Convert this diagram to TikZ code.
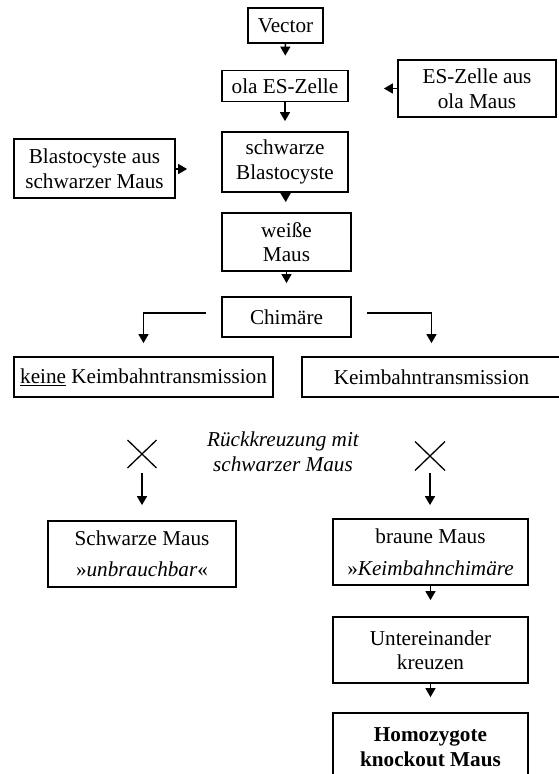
\documentclass[tikz,border=0pt]{standalone}
\usepackage{fontspec}
\setmainfont{Liberation Serif}
\usetikzlibrary{arrows.meta}
\begin{document}
\begin{tikzpicture}[x=1pt,y=-1pt,
  box/.style={draw,line width=1.8pt,inner sep=0pt,align=center,font=\fontsize{21.2}{24.5}\selectfont},
  arr/.style={line width=1.6pt,-{Triangle[width=10pt,length=9pt]}},
  cross/.style={line width=1.3pt},
  lbl/.style={align=center,inner sep=0pt,font=\fontsize{21.2}{25}\selectfont\itshape}
]
\clip (0,0) rectangle (559,774);
\node[box,minimum width=75pt,minimum height=35pt] (vector) at (285.5,25.5) {Vector};
\node[box,minimum width=126pt,minimum height=31pt] (ola) at (285,86) {ola ES-Zelle};
\node[box,minimum width=158pt,minimum height=57pt] (esz) at (477,88.5) {ES-Zelle aus\\ola Maus};
\node[box,minimum width=161pt,minimum height=59pt] (blaus) at (94.5,168.5) {Blastocyste aus\\schwarzer Maus};
\node[box,minimum width=126pt,minimum height=60pt] (sblast) at (285,162) {schwarze\\Blastocyste};
\node[box,minimum width=129pt,minimum height=58pt] (weiss) at (286.5,242) {weiße\\Maus};
\node[box,minimum width=129pt,minimum height=40pt] (chim) at (286.5,317) {Chimäre};
\node[box,minimum width=259pt,minimum height=40pt] (keine) at (143.5,377) {\underline{keine} Keimbahntransmission};
\node[box,minimum width=259pt,minimum height=40pt] (keim) at (431.5,377) {Keimbahntransmission};
\node[lbl] (rueck) at (283,452) {Rückkreuzung mit\\schwarzer Maus};
\node[box,minimum width=188pt,minimum height=66pt] (smaus) at (142,554) {Schwarze Maus\\[7pt]»\textit{unbrauchbar}«};
\node[box,minimum width=195pt,minimum height=66pt] (bmaus) at (430.5,552) {braune Maus\\[7pt]»\textit{Keimbahnchimäre}};
\node[box,minimum width=195pt,minimum height=66pt] (unter) at (430.5,650) {Untereinander\\kreuzen};
\node[box,minimum width=195pt,minimum height=68pt,font=\fontsize{21.2}{24.5}\selectfont\bfseries] (homo) at (430.5,747) {Homozygote\\knockout Maus};

\draw[arr,shorten >=14pt] (vector) -- (ola);
\draw[arr,shorten >=10pt] (ola) -- (sblast);
\draw[arr,shorten >=10pt] (sblast) -- (weiss);
\draw[arr,shorten >=13pt] (weiss) -- (chim);
\draw[arr,shorten >=35pt] (esz.west) -- (esz.west -| ola.east);
\draw[arr,shorten >=34pt] ([yshift=-0.5pt]blaus.east) -- ([yshift=-0.5pt]blaus.east -| sblast.west);
\draw[arr,shorten <=15pt,shorten >=13pt] ([yshift=4pt]chim.west) -| (keine.north);
\draw[arr,shorten <=15pt,shorten >=13pt] ([yshift=4pt]chim.east) -| (keim.north);

\coordinate (xl) at (142,454);
\coordinate (xr) at (430,456);
\draw[cross] ([shift={(-14.5,-14)}]xl) -- ([shift={(14.5,14)}]xl);
\draw[cross] ([shift={(-14.5,14)}]xl) -- ([shift={(14.5,-14)}]xl);
\draw[cross] ([shift={(-15,-14.5)}]xr) -- ([shift={(15,14.5)}]xr);
\draw[cross] ([shift={(-15,14.5)}]xr) -- ([shift={(15,-14.5)}]xr);
\draw[arr,shorten <=19pt,shorten >=15pt] (xl) -- (xl |- smaus.north);
\draw[arr,shorten <=17pt,shorten >=13pt] (xr) -- (xr |- bmaus.north);

\draw[arr,shorten >=16pt] (bmaus) -- (unter);
\draw[arr,shorten >=15pt] (unter) -- (homo);
\end{tikzpicture}
\end{document}
